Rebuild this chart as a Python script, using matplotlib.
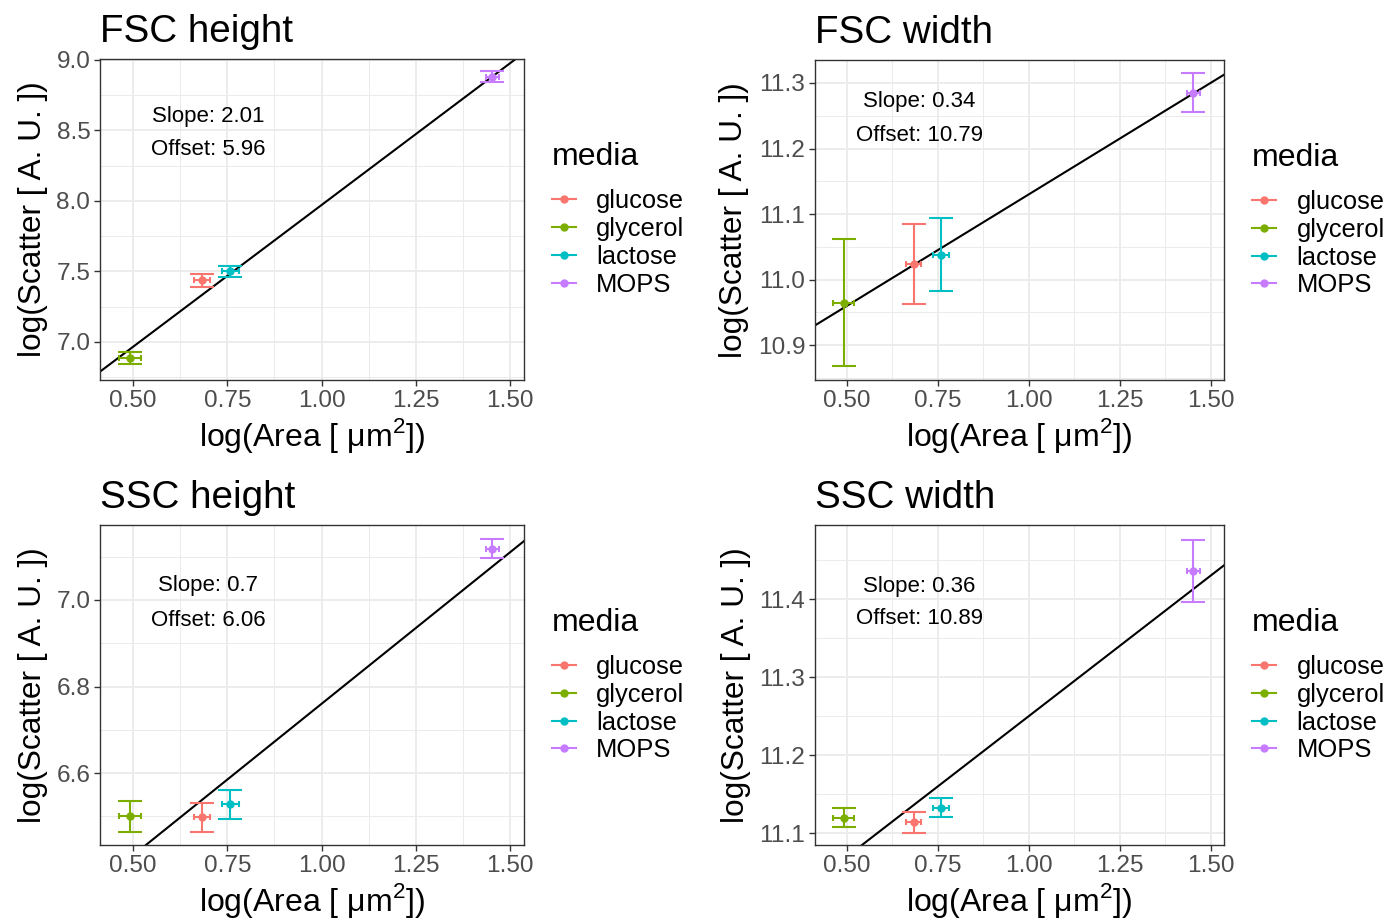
"""Scatter vs cell area for four media, with linear fits (FSC/SSC height and width)."""

import matplotlib

matplotlib.use("Agg")
import matplotlib.pyplot as plt
from matplotlib.lines import Line2D
from matplotlib.ticker import FixedLocator, FormatStrFormatter

plt.rcParams["font.family"] = ["Liberation Sans", "DejaVu Sans"]
plt.rcParams["mathtext.fontset"] = "custom"
plt.rcParams["mathtext.rm"] = "Liberation Sans"

media = ["glucose", "glycerol", "lactose", "MOPS"]
colors = ["#F8766D", "#7CAE00", "#00BFC4", "#C77CFF"]

# log(Area) per medium, shared by every panel
area = [0.684, 0.492, 0.758, 1.453]
area_err = [0.021, 0.029, 0.022, 0.018]

panel_titles = ["FSC height", "FSC width", "SSC height", "SSC width"]
scatter = [
    [7.436, 6.886, 7.50, 8.88],
    [11.024, 10.965, 11.038, 11.285],
    [6.498, 6.500, 6.528, 7.118],
    [11.114, 11.120, 11.133, 11.436],
]
scatter_err = [
    [0.045, 0.045, 0.040, 0.040],
    [0.061, 0.097, 0.056, 0.030],
    [0.034, 0.036, 0.033, 0.022],
    [0.013, 0.012, 0.012, 0.040],
]
slopes = [2.01, 0.34, 0.7, 0.36]
offsets = [5.96, 10.79, 6.06, 10.89]

x_ticks = [0.50, 0.75, 1.00, 1.25, 1.50]
y_ticks = [
    [7.0, 7.5, 8.0, 8.5, 9.0],
    [10.9, 11.0, 11.1, 11.2, 11.3],
    [6.6, 6.8, 7.0],
    [11.1, 11.2, 11.3, 11.4],
]
y_limits = [(6.73, 9.005), (10.847, 11.335), (6.434, 7.173), (11.085, 11.495)]
x_limits = (0.4125, 1.537)

# where the slope/offset labels sit, in data coordinates
label_x = [0.70, 0.70, 0.70, 0.70]
label_y = [(8.60, 8.365), (11.271, 11.220), (7.033, 6.953), (11.416, 11.375)]

W, H = 1400, 922
fig = plt.figure(figsize=(W / 100, H / 100), dpi=100)

# axes boxes in pixels: left, right, top, bottom
boxes = [(100, 524, 59, 380), (815, 1224, 60, 380), (100, 524, 525, 845), (815, 1224, 525, 845)]
legend_x = [1.041, 1.043, 1.041, 1.043]

grid_col = "#EBEBEB"
for i, (l, r, t, b) in enumerate(boxes):
    ax = fig.add_axes([l / W, 1 - b / H, (r - l) / W, (b - t) / H])
    ax.set_xlim(*x_limits)
    ax.set_ylim(*y_limits[i])

    ax.xaxis.set_major_locator(FixedLocator(x_ticks))
    ax.xaxis.set_minor_locator(FixedLocator([0.625, 0.875, 1.125, 1.375]))
    ax.yaxis.set_major_locator(FixedLocator(y_ticks[i]))
    step = y_ticks[i][1] - y_ticks[i][0]
    ax.yaxis.set_minor_locator(
        FixedLocator([v - step / 2 for v in y_ticks[i]] + [y_ticks[i][-1] + step / 2])
    )
    ax.xaxis.set_major_formatter(FormatStrFormatter("%.2f"))
    ax.yaxis.set_major_formatter(FormatStrFormatter("%.1f"))
    ax.grid(True, which="major", color=grid_col, lw=1.3, zorder=0)
    ax.grid(True, which="minor", color=grid_col, lw=0.7, zorder=0)
    ax.set_axisbelow(True)
    ax.tick_params(which="major", length=4, width=1.0, color="#333333",
                   labelsize=17.6, labelcolor="#4D4D4D", pad=3)
    ax.tick_params(which="minor", length=0)
    for s in ax.spines.values():
        s.set_color("#333333")
        s.set_linewidth(1.0)

    # fit line
    ax.axline((0, offsets[i]), slope=slopes[i], color="black", lw=1.5, zorder=2)

    for j in range(len(media)):
        ax.errorbar(area[j], scatter[i][j], yerr=scatter_err[i][j], fmt="none",
                    ecolor=colors[j], elinewidth=1.5, capsize=8.6, capthick=1.5, zorder=3)
        ax.errorbar(area[j], scatter[i][j], xerr=area_err[j], fmt="o",
                    color=colors[j], ms=5, elinewidth=1.5, capsize=2.5, capthick=1.5,
                    zorder=4)

    ax.text(label_x[i], label_y[i][0], f"Slope: {slopes[i]}", ha="center", va="center",
            fontsize=16)
    ax.text(label_x[i], label_y[i][1], f"Offset: {offsets[i]:.2f}", ha="center",
            va="center", fontsize=16)

    ax.set_title(panel_titles[i], loc="left", fontsize=27.8, pad=12)
    ax.set_xlabel("log(Area [ μm$^{2}$])", fontsize=23, labelpad=3)
    ax.set_ylabel("log(Scatter [ A. U. ])", fontsize=22.8, labelpad=6)

    handles = [Line2D([], [], color=c, marker="o", ms=5, lw=1.5) for c in colors]
    leg = ax.legend(handles, media, title="media", loc="center left",
                    bbox_to_anchor=(legend_x[i], 0.5),
                    frameon=False, fontsize=18.4, title_fontsize=23,
                    handlelength=0.95, handletextpad=0.8, labelspacing=0.15,
                    borderaxespad=0)
    leg._legend_box.align = "left"
    leg._legend_box.sep = 12.5

fig.savefig("out.png", dpi=100)
